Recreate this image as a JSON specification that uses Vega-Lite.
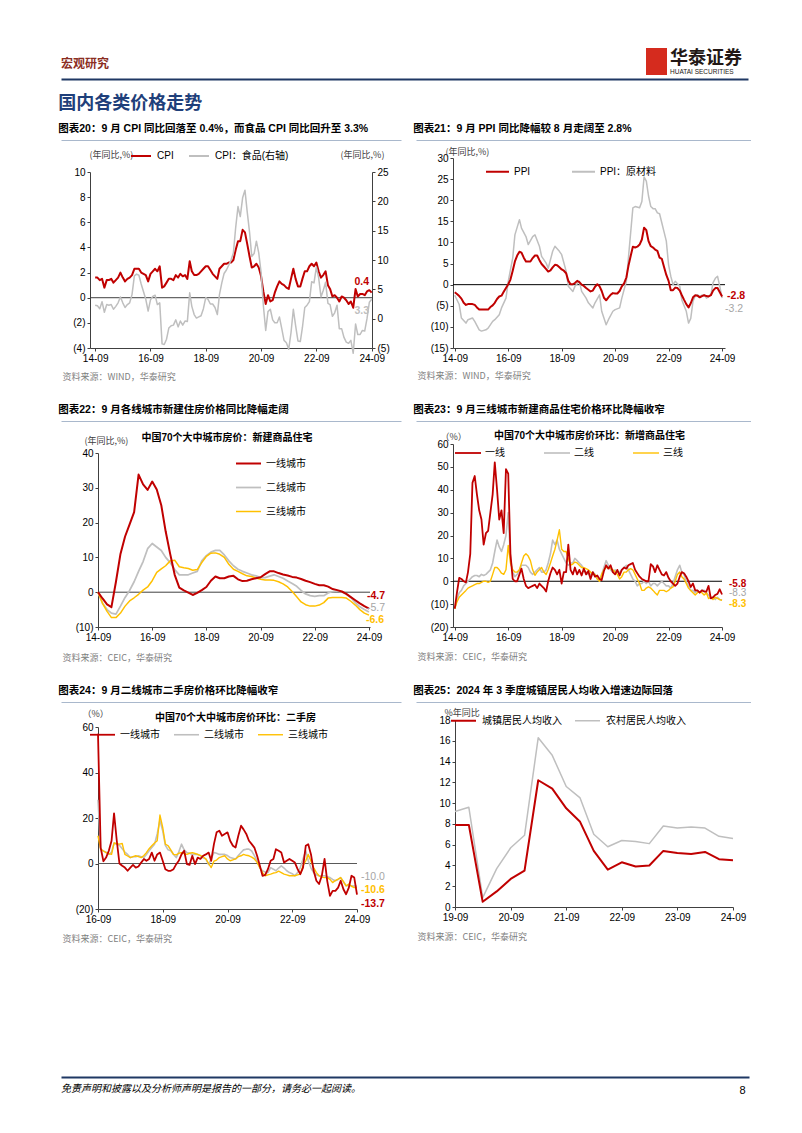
{
"$schema": "https://vega.github.io/schema/vega-lite/v6.json",
"background": "#ffffff",
"padding": {"left": 58, "top": 48, "right": 0, "bottom": 0},
"config": {
 "font": "Liberation Sans, Noto Sans CJK SC",
 "view": {"stroke": null},
 "axis": {"grid": false, "domainColor": "#404040", "domainWidth": 1, "tickColor": "#404040", "tickSize": 3, "labelFont": "Liberation Sans", "labelFontSize": 10, "labelColor": "#000000", "labelPadding": 2, "labelFlush": false, "labelOverlap": false, "labelBound": false, "titleFont": "Noto Sans CJK SC", "titleFontSize": 9, "titleFontWeight": "normal", "titleColor": "#404040"},
 "legend": {"labelFont": "Liberation Sans, Noto Sans CJK SC", "labelFontSize": 10, "labelColor": "#000000", "symbolType": "stroke", "symbolStrokeWidth": 2, "labelLimit": 300, "orient": "none"},
 "title": {"font": "Liberation Sans, Noto Sans CJK SC", "fontSize": 10.5, "fontWeight": "bold", "color": "#000000", "anchor": "start", "offset": 3},
 "line": {"strokeJoin": "round"}
},
"datasets": {
 "c20": [
{"d":"2014-09","cpi":1.6,"food":2.3},{"d":"2014-10","cpi":1.6,"food":2.2},{"d":"2014-11","cpi":1.4,"food":1.7},{"d":"2014-12","cpi":1.5,"food":2.9},
{"d":"2015-01","cpi":0.8,"food":1.1},{"d":"2015-02","cpi":1.4,"food":2.4},{"d":"2015-03","cpi":1.4,"food":2.3},{"d":"2015-04","cpi":1.5,"food":2.4},{"d":"2015-05","cpi":1.2,"food":1.6},{"d":"2015-06","cpi":1.4,"food":2.1},{"d":"2015-07","cpi":1.6,"food":2.7},{"d":"2015-08","cpi":2.0,"food":3.7},{"d":"2015-09","cpi":1.6,"food":2.7},{"d":"2015-10","cpi":1.3,"food":1.9},{"d":"2015-11","cpi":1.5,"food":2.4},{"d":"2015-12","cpi":1.6,"food":2.7},
{"d":"2016-01","cpi":1.8,"food":4.1},{"d":"2016-02","cpi":2.3,"food":7.3},{"d":"2016-03","cpi":2.3,"food":7.6},{"d":"2016-04","cpi":2.3,"food":7.4},{"d":"2016-05","cpi":2.0,"food":5.9},{"d":"2016-06","cpi":1.9,"food":4.6},{"d":"2016-07","cpi":1.8,"food":3.3},{"d":"2016-08","cpi":1.3,"food":1.3},{"d":"2016-09","cpi":1.9,"food":3.2},{"d":"2016-10","cpi":2.1,"food":3.8},{"d":"2016-11","cpi":2.3,"food":4.0},{"d":"2016-12","cpi":2.1,"food":2.4},
{"d":"2017-01","cpi":2.5,"food":2.7},{"d":"2017-02","cpi":0.8,"food":-4.3},{"d":"2017-03","cpi":0.9,"food":-4.4},{"d":"2017-04","cpi":1.2,"food":-3.5},{"d":"2017-05","cpi":1.5,"food":-1.6},{"d":"2017-06","cpi":1.5,"food":-1.2},{"d":"2017-07","cpi":1.4,"food":-1.1},{"d":"2017-08","cpi":1.8,"food":-0.2},{"d":"2017-09","cpi":1.6,"food":-1.4},{"d":"2017-10","cpi":1.9,"food":-0.4},{"d":"2017-11","cpi":1.7,"food":-1.1},{"d":"2017-12","cpi":1.8,"food":-0.4},
{"d":"2018-01","cpi":1.5,"food":-0.5},{"d":"2018-02","cpi":2.9,"food":4.4},{"d":"2018-03","cpi":2.1,"food":2.1},{"d":"2018-04","cpi":1.8,"food":0.7},{"d":"2018-05","cpi":1.8,"food":0.1},{"d":"2018-06","cpi":1.9,"food":0.3},{"d":"2018-07","cpi":2.1,"food":0.5},{"d":"2018-08","cpi":2.3,"food":1.7},{"d":"2018-09","cpi":2.5,"food":3.6},{"d":"2018-10","cpi":2.5,"food":3.3},{"d":"2018-11","cpi":2.2,"food":2.5},{"d":"2018-12","cpi":1.9,"food":2.5},
{"d":"2019-01","cpi":1.7,"food":1.9},{"d":"2019-02","cpi":1.5,"food":0.7},{"d":"2019-03","cpi":2.3,"food":4.1},{"d":"2019-04","cpi":2.5,"food":6.1},{"d":"2019-05","cpi":2.7,"food":7.7},{"d":"2019-06","cpi":2.7,"food":8.3},{"d":"2019-07","cpi":2.8,"food":9.1},{"d":"2019-08","cpi":2.8,"food":10.0},{"d":"2019-09","cpi":3.0,"food":11.2},{"d":"2019-10","cpi":3.8,"food":15.5},{"d":"2019-11","cpi":4.5,"food":19.1},{"d":"2019-12","cpi":4.5,"food":17.4},
{"d":"2020-01","cpi":5.4,"food":20.6},{"d":"2020-02","cpi":5.2,"food":21.9},{"d":"2020-03","cpi":4.3,"food":18.3},{"d":"2020-04","cpi":3.3,"food":14.8},{"d":"2020-05","cpi":2.4,"food":10.6},{"d":"2020-06","cpi":2.5,"food":11.1},{"d":"2020-07","cpi":2.7,"food":13.2},{"d":"2020-08","cpi":2.4,"food":11.2},{"d":"2020-09","cpi":1.7,"food":7.9},{"d":"2020-10","cpi":0.5,"food":2.2},{"d":"2020-11","cpi":-0.5,"food":-2.0},{"d":"2020-12","cpi":0.2,"food":1.2},
{"d":"2021-01","cpi":-0.3,"food":1.6},{"d":"2021-02","cpi":-0.2,"food":-0.2},{"d":"2021-03","cpi":0.4,"food":-0.7},{"d":"2021-04","cpi":0.9,"food":-0.7},{"d":"2021-05","cpi":1.3,"food":0.3},{"d":"2021-06","cpi":1.1,"food":-1.7},{"d":"2021-07","cpi":1.0,"food":-3.7},{"d":"2021-08","cpi":0.8,"food":-4.1},{"d":"2021-09","cpi":0.7,"food":-5.2},{"d":"2021-10","cpi":1.5,"food":-2.4},{"d":"2021-11","cpi":2.3,"food":1.6},{"d":"2021-12","cpi":1.5,"food":-1.2},
{"d":"2022-01","cpi":0.9,"food":-3.8},{"d":"2022-02","cpi":0.9,"food":-3.9},{"d":"2022-03","cpi":1.5,"food":-1.5},{"d":"2022-04","cpi":2.1,"food":1.9},{"d":"2022-05","cpi":2.1,"food":2.3},{"d":"2022-06","cpi":2.5,"food":2.9},{"d":"2022-07","cpi":2.7,"food":6.3},{"d":"2022-08","cpi":2.5,"food":6.1},{"d":"2022-09","cpi":2.8,"food":8.8},{"d":"2022-10","cpi":2.1,"food":7.0},{"d":"2022-11","cpi":1.6,"food":3.7},{"d":"2022-12","cpi":1.8,"food":4.8},
{"d":"2023-01","cpi":2.1,"food":6.2},{"d":"2023-02","cpi":1.0,"food":2.6},{"d":"2023-03","cpi":0.7,"food":2.4},{"d":"2023-04","cpi":0.1,"food":0.4},{"d":"2023-05","cpi":0.2,"food":1.0},{"d":"2023-06","cpi":0.0,"food":2.3},{"d":"2023-07","cpi":-0.3,"food":-1.7},{"d":"2023-08","cpi":0.1,"food":-1.7},{"d":"2023-09","cpi":0.0,"food":-3.2},{"d":"2023-10","cpi":-0.2,"food":-4.0},{"d":"2023-11","cpi":-0.5,"food":-4.2},{"d":"2023-12","cpi":-0.3,"food":-3.7},
{"d":"2024-01","cpi":-0.8,"food":-5.9},{"d":"2024-02","cpi":0.7,"food":-0.9},{"d":"2024-03","cpi":0.1,"food":-2.7},{"d":"2024-04","cpi":0.3,"food":-2.7},{"d":"2024-05","cpi":0.3,"food":-2.0},{"d":"2024-06","cpi":0.2,"food":-2.1},{"d":"2024-07","cpi":0.5,"food":0.0},{"d":"2024-08","cpi":0.6,"food":2.8},{"d":"2024-09","cpi":0.4,"food":3.3}
 ],
 "c21p": [
{"d":"2014-09","v":-1.8},{"d":"2014-10","v":-2.2},{"d":"2014-11","v":-2.7},{"d":"2014-12","v":-3.3},
{"d":"2015-01","v":-4.3},{"d":"2015-02","v":-4.8},{"d":"2015-03","v":-4.6},{"d":"2015-04","v":-4.6},{"d":"2015-05","v":-4.6},{"d":"2015-06","v":-4.8},{"d":"2015-07","v":-5.4},{"d":"2015-08","v":-5.9},{"d":"2015-09","v":-5.9},{"d":"2015-10","v":-5.9},{"d":"2015-11","v":-5.9},{"d":"2015-12","v":-5.9},
{"d":"2016-01","v":-5.3},{"d":"2016-02","v":-4.9},{"d":"2016-03","v":-4.3},{"d":"2016-04","v":-3.4},{"d":"2016-05","v":-2.8},{"d":"2016-06","v":-2.6},{"d":"2016-07","v":-1.7},{"d":"2016-08","v":-0.8},{"d":"2016-09","v":0.1},{"d":"2016-10","v":1.2},{"d":"2016-11","v":3.3},{"d":"2016-12","v":5.5},
{"d":"2017-01","v":6.9},{"d":"2017-02","v":7.8},{"d":"2017-03","v":7.6},{"d":"2017-04","v":6.4},{"d":"2017-05","v":5.5},{"d":"2017-06","v":5.5},{"d":"2017-07","v":5.5},{"d":"2017-08","v":6.3},{"d":"2017-09","v":6.9},{"d":"2017-10","v":6.9},{"d":"2017-11","v":5.8},{"d":"2017-12","v":4.9},
{"d":"2018-01","v":4.3},{"d":"2018-02","v":3.7},{"d":"2018-03","v":3.1},{"d":"2018-04","v":3.4},{"d":"2018-05","v":4.1},{"d":"2018-06","v":4.7},{"d":"2018-07","v":4.6},{"d":"2018-08","v":4.1},{"d":"2018-09","v":3.6},{"d":"2018-10","v":3.3},{"d":"2018-11","v":2.7},{"d":"2018-12","v":0.9},
{"d":"2019-01","v":0.1},{"d":"2019-02","v":0.1},{"d":"2019-03","v":0.4},{"d":"2019-04","v":0.9},{"d":"2019-05","v":0.6},{"d":"2019-06","v":0.0},{"d":"2019-07","v":-0.3},{"d":"2019-08","v":-0.8},{"d":"2019-09","v":-1.2},{"d":"2019-10","v":-1.6},{"d":"2019-11","v":-1.4},{"d":"2019-12","v":-0.5},
{"d":"2020-01","v":0.1},{"d":"2020-02","v":-0.4},{"d":"2020-03","v":-1.5},{"d":"2020-04","v":-3.1},{"d":"2020-05","v":-3.7},{"d":"2020-06","v":-3.0},{"d":"2020-07","v":-2.4},{"d":"2020-08","v":-2.0},{"d":"2020-09","v":-2.1},{"d":"2020-10","v":-2.1},{"d":"2020-11","v":-1.5},{"d":"2020-12","v":-0.4},
{"d":"2021-01","v":0.3},{"d":"2021-02","v":1.7},{"d":"2021-03","v":4.4},{"d":"2021-04","v":6.8},{"d":"2021-05","v":9.0},{"d":"2021-06","v":8.8},{"d":"2021-07","v":9.0},{"d":"2021-08","v":9.5},{"d":"2021-09","v":10.7},{"d":"2021-10","v":13.5},{"d":"2021-11","v":12.9},{"d":"2021-12","v":10.3},
{"d":"2022-01","v":9.1},{"d":"2022-02","v":8.8},{"d":"2022-03","v":8.3},{"d":"2022-04","v":8.0},{"d":"2022-05","v":6.4},{"d":"2022-06","v":6.1},{"d":"2022-07","v":4.2},{"d":"2022-08","v":2.3},{"d":"2022-09","v":0.9},{"d":"2022-10","v":-1.3},{"d":"2022-11","v":-1.3},{"d":"2022-12","v":-0.7},
{"d":"2023-01","v":-0.8},{"d":"2023-02","v":-1.4},{"d":"2023-03","v":-2.5},{"d":"2023-04","v":-3.6},{"d":"2023-05","v":-4.6},{"d":"2023-06","v":-5.4},{"d":"2023-07","v":-4.4},{"d":"2023-08","v":-3.0},{"d":"2023-09","v":-2.5},{"d":"2023-10","v":-2.6},{"d":"2023-11","v":-3.0},{"d":"2023-12","v":-2.7},
{"d":"2024-01","v":-2.5},{"d":"2024-02","v":-2.7},{"d":"2024-03","v":-2.8},{"d":"2024-04","v":-2.5},{"d":"2024-05","v":-1.4},{"d":"2024-06","v":-0.8},{"d":"2024-07","v":-0.8},{"d":"2024-08","v":-1.8},{"d":"2024-09","v":-2.8}
 ],
 "c21r": [
{"d":"2014-09","v":-2.5},{"d":"2014-11","v":-4.7},{"d":"2014-12","v":-7.9},{"d":"2015-02","v":-9.1},{"d":"2015-03","v":-8.3},{"d":"2015-05","v":-7.9},{"d":"2015-06","v":-8.7},{"d":"2015-08","v":-10.7},{"d":"2015-09","v":-11},{"d":"2015-11","v":-10.7},{"d":"2015-12","v":-10.3},
{"d":"2016-02","v":-8.7},{"d":"2016-03","v":-8.3},{"d":"2016-05","v":-7.1},{"d":"2016-06","v":-5.5},{"d":"2016-08","v":-3.2},{"d":"2016-09","v":0.8},{"d":"2016-11","v":6.3},{"d":"2016-12","v":11.8},
{"d":"2017-02","v":15.4},{"d":"2017-03","v":13.4},{"d":"2017-05","v":11.4},{"d":"2017-06","v":9.5},{"d":"2017-08","v":11.4},{"d":"2017-09","v":11.8},{"d":"2017-11","v":9.1},{"d":"2017-12","v":6.7},
{"d":"2018-02","v":5.1},{"d":"2018-03","v":3.9},{"d":"2018-05","v":7.9},{"d":"2018-06","v":9.1},{"d":"2018-08","v":7.9},{"d":"2018-09","v":7.1},{"d":"2018-11","v":3.2},{"d":"2018-12","v":-0.4},
{"d":"2019-02","v":-1.6},{"d":"2019-03","v":-0.4},{"d":"2019-05","v":0.8},{"d":"2019-06","v":-1.6},{"d":"2019-08","v":-3.2},{"d":"2019-09","v":-4.3},{"d":"2019-11","v":-5.5},{"d":"2019-12","v":-4.3},
{"d":"2020-02","v":-2.4},{"d":"2020-03","v":-6.3},{"d":"2020-05","v":-9.5},{"d":"2020-06","v":-8.3},{"d":"2020-08","v":-6.3},{"d":"2020-09","v":-5.9},{"d":"2020-11","v":-5.5},{"d":"2020-12","v":-3.2},
{"d":"2021-02","v":0.8},{"d":"2021-03","v":6.3},{"d":"2021-05","v":18.2},{"d":"2021-06","v":18.5},{"d":"2021-08","v":18.2},{"d":"2021-09","v":19.7},{"d":"2021-10","v":25.5},{"d":"2021-11","v":24.5},{"d":"2021-12","v":21},
{"d":"2022-01","v":18.5},{"d":"2022-02","v":18},{"d":"2022-03","v":18},{"d":"2022-04","v":17},{"d":"2022-05","v":16.8},{"d":"2022-06","v":14.6},{"d":"2022-07","v":12.5},{"d":"2022-08","v":10.3},{"d":"2022-09","v":4.7},{"d":"2022-10","v":2},{"d":"2022-11","v":0},{"d":"2022-12","v":0.8},
{"d":"2023-01","v":0.2},{"d":"2023-02","v":-0.4},{"d":"2023-03","v":-3.6},{"d":"2023-04","v":-5},{"d":"2023-05","v":-6.3},{"d":"2023-06","v":-9.1},{"d":"2023-07","v":-8},{"d":"2023-08","v":-3.9},{"d":"2023-09","v":-2.6},{"d":"2023-10","v":-2.4},{"d":"2023-11","v":-2.8},{"d":"2023-12","v":-2.5},
{"d":"2024-01","v":-2.4},{"d":"2024-02","v":-3.2},{"d":"2024-03","v":-2.8},{"d":"2024-04","v":-2.4},{"d":"2024-05","v":0.5},{"d":"2024-06","v":1.5},{"d":"2024-07","v":2},{"d":"2024-08","v":-0.4},{"d":"2024-09","v":-3.2}
 ],
 "c22": [
{"d":"2014-09","t1":0,"t2":0,"t3":0},{"d":"2014-11","t1":-1.8,"t2":-3.2,"t3":-3.2},{"d":"2015-01","t1":-3.5,"t2":-5,"t3":-5.5},{"d":"2015-03","t1":-4.3,"t2":-6,"t3":-7.3},{"d":"2015-05","t1":3,"t2":-6.3,"t3":-7.3},{"d":"2015-07","t1":11,"t2":-4,"t3":-6},{"d":"2015-09","t1":16,"t2":-1.5,"t3":-4},{"d":"2015-11","t1":19.5,"t2":0.5,"t3":-2.5},
{"d":"2016-01","t1":23,"t2":3,"t3":-1.6},{"d":"2016-03","t1":33.8,"t2":6,"t3":-0.6},{"d":"2016-05","t1":31,"t2":8.8,"t3":0.6},{"d":"2016-07","t1":29.4,"t2":12.5,"t3":1.5},{"d":"2016-09","t1":31.8,"t2":14,"t3":3.3},{"d":"2016-11","t1":29.5,"t2":13,"t3":5.7},
{"d":"2017-01","t1":25,"t2":12,"t3":6.7},{"d":"2017-03","t1":17.5,"t2":10,"t3":7.6},{"d":"2017-05","t1":11,"t2":8.5,"t3":9},{"d":"2017-07","t1":5,"t2":6.5,"t3":9.2},{"d":"2017-09","t1":1.3,"t2":5,"t3":7.3},{"d":"2017-11","t1":0.5,"t2":5,"t3":7},
{"d":"2018-01","t1":-0.1,"t2":5,"t3":6.8},{"d":"2018-03","t1":-0.8,"t2":5.5,"t3":6.3},{"d":"2018-05","t1":-0.2,"t2":6,"t3":6.5},{"d":"2018-07","t1":0.6,"t2":9,"t3":8.5},{"d":"2018-09","t1":1.5,"t2":10.5,"t3":10.3},{"d":"2018-11","t1":3.3,"t2":11.5,"t3":11.2},
{"d":"2019-01","t1":4.5,"t2":12,"t3":11.3},{"d":"2019-03","t1":4,"t2":12,"t3":10.9},{"d":"2019-05","t1":4,"t2":10.7,"t3":10},{"d":"2019-07","t1":4.5,"t2":9,"t3":8},{"d":"2019-09","t1":4.7,"t2":7.6,"t3":6.6},{"d":"2019-11","t1":3.7,"t2":6.6,"t3":6},
{"d":"2020-01","t1":3.2,"t2":6,"t3":5.3},{"d":"2020-03","t1":3.3,"t2":5.5,"t3":4.7},{"d":"2020-05","t1":3.7,"t2":5,"t3":4.5},{"d":"2020-07","t1":4,"t2":4.7,"t3":4.1},{"d":"2020-09","t1":4.3,"t2":4.2,"t3":3.7},{"d":"2020-11","t1":5.2,"t2":4.2,"t3":3.5},
{"d":"2021-01","t1":6,"t2":4.6,"t3":3.5},{"d":"2021-03","t1":6,"t2":5,"t3":3.4},{"d":"2021-05","t1":5.5,"t2":4.5,"t3":3},{"d":"2021-07","t1":5.1,"t2":4,"t3":2.4},{"d":"2021-09","t1":4.8,"t2":3.2,"t3":1.5},{"d":"2021-11","t1":4.4,"t2":2.5,"t3":0.2},
{"d":"2022-01","t1":4.2,"t2":1.7,"t3":-1.3},{"d":"2022-03","t1":3.8,"t2":0.5,"t3":-2.8},{"d":"2022-05","t1":3.3,"t2":-0.5,"t3":-3.6},{"d":"2022-07","t1":2.9,"t2":-1,"t3":-4},{"d":"2022-09","t1":2.4,"t2":-1.2,"t3":-4},{"d":"2022-11","t1":2,"t2":-1,"t3":-3.7},
{"d":"2023-01","t1":2,"t2":-1,"t3":-3},{"d":"2023-03","t1":1.6,"t2":-0.2,"t3":-1.7},{"d":"2023-05","t1":0.9,"t2":0.2,"t3":-1.5},{"d":"2023-07","t1":0.6,"t2":0.3,"t3":-1.5},{"d":"2023-09","t1":0.2,"t2":0.1,"t3":-1.5},{"d":"2023-11","t1":-0.5,"t2":-0.6,"t3":-1.7},
{"d":"2024-01","t1":-1.4,"t2":-1.5,"t3":-2.6},{"d":"2024-03","t1":-2.3,"t2":-3,"t3":-3.7},{"d":"2024-05","t1":-3.2,"t2":-4.2,"t3":-5},{"d":"2024-07","t1":-4,"t2":-5,"t3":-6},{"d":"2024-09","t1":-4.7,"t2":-5.7,"t3":-6.6}
 ],
 "c23": [
{"d":"2014-09","t1":-12,"t2":-12,"t3":-12},{"d":"2014-10","t1":-5,"t2":-8,"t3":-9},{"d":"2014-11","t1":1.5,"t2":-5,"t3":-7},{"d":"2014-12","t1":1,"t2":-4,"t3":-6},
{"d":"2015-01","t1":0,"t2":-2,"t3":-5},{"d":"2015-02","t1":-0.5,"t2":-1,"t3":-4},{"d":"2015-03","t1":4,"t2":0,"t3":-3},{"d":"2015-04","t1":12,"t2":1,"t3":-2.5},{"d":"2015-05","t1":43,"t2":2,"t3":-2},{"d":"2015-06","t1":46,"t2":2.5,"t3":-1.5},{"d":"2015-07","t1":38,"t2":2.5,"t3":-1},{"d":"2015-08","t1":31,"t2":2,"t3":-1},{"d":"2015-09","t1":27,"t2":3,"t3":-0.5},{"d":"2015-10","t1":16,"t2":2.5,"t3":0},{"d":"2015-11","t1":21,"t2":3,"t3":0},{"d":"2015-12","t1":22,"t2":4,"t3":-0.5},
{"d":"2016-01","t1":30,"t2":5,"t3":0},{"d":"2016-02","t1":38,"t2":8,"t3":3},{"d":"2016-03","t1":52,"t2":13,"t3":6},{"d":"2016-04","t1":40,"t2":18,"t3":6},{"d":"2016-05","t1":27,"t2":15,"t3":5},{"d":"2016-06","t1":31,"t2":13,"t3":3.5},{"d":"2016-07","t1":21,"t2":16,"t3":3},{"d":"2016-08","t1":49,"t2":20,"t3":5},{"d":"2016-09","t1":47,"t2":30,"t3":15.7},{"d":"2016-10","t1":12,"t2":10,"t3":8},{"d":"2016-11","t1":1,"t2":4,"t3":5},{"d":"2016-12","t1":0,"t2":2,"t3":4},
{"d":"2017-01","t1":0,"t2":3,"t3":4},{"d":"2017-02","t1":3,"t2":5,"t3":5},{"d":"2017-03","t1":5.5,"t2":7,"t3":8},{"d":"2017-04","t1":1,"t2":7,"t3":11},{"d":"2017-05","t1":-2,"t2":7,"t3":12},{"d":"2017-06","t1":-3,"t2":6,"t3":11},{"d":"2017-07","t1":-2.5,"t2":4,"t3":9},{"d":"2017-08","t1":-2,"t2":3,"t3":5},{"d":"2017-09","t1":-1.5,"t2":4,"t3":2.6},{"d":"2017-10","t1":-3,"t2":5,"t3":4},{"d":"2017-11","t1":-1,"t2":6,"t3":5},{"d":"2017-12","t1":-2,"t2":4,"t3":6},
{"d":"2018-01","t1":-3,"t2":4,"t3":4},{"d":"2018-02","t1":-4.5,"t2":5,"t3":3},{"d":"2018-03","t1":0,"t2":8,"t3":5},{"d":"2018-04","t1":3.5,"t2":12,"t3":8},{"d":"2018-05","t1":6,"t2":18,"t3":11},{"d":"2018-06","t1":5,"t2":16,"t3":14},{"d":"2018-07","t1":3,"t2":18,"t3":18},{"d":"2018-08","t1":5,"t2":14,"t3":22.5},{"d":"2018-09","t1":-1,"t2":12,"t3":14},{"d":"2018-10","t1":4,"t2":10,"t3":13},{"d":"2018-11","t1":4,"t2":8,"t3":13},{"d":"2018-12","t1":16,"t2":7,"t3":10},
{"d":"2019-01","t1":5,"t2":8,"t3":7},{"d":"2019-02","t1":3,"t2":8,"t3":7.5},{"d":"2019-03","t1":6,"t2":10,"t3":8.4},{"d":"2019-04","t1":3,"t2":9,"t3":8},{"d":"2019-05","t1":5,"t2":8,"t3":7},{"d":"2019-06","t1":2.5,"t2":7,"t3":6},{"d":"2019-07","t1":5.5,"t2":5,"t3":6},{"d":"2019-08","t1":3,"t2":4,"t3":5.5},{"d":"2019-09","t1":4.5,"t2":3,"t3":5},{"d":"2019-10","t1":1,"t2":3,"t3":4},{"d":"2019-11","t1":4,"t2":4,"t3":3},{"d":"2019-12","t1":2,"t2":3,"t3":3},
{"d":"2020-01","t1":2.5,"t2":1,"t3":1},{"d":"2020-02","t1":1,"t2":0,"t3":0},{"d":"2020-03","t1":0.5,"t2":3,"t3":3},{"d":"2020-04","t1":4.5,"t2":6,"t3":5},{"d":"2020-05","t1":7,"t2":9,"t3":6},{"d":"2020-06","t1":5.5,"t2":7,"t3":6},{"d":"2020-07","t1":7,"t2":5,"t3":5.5},{"d":"2020-08","t1":4,"t2":4,"t3":5},{"d":"2020-09","t1":3,"t2":5,"t3":4},{"d":"2020-10","t1":5,"t2":4,"t3":3},{"d":"2020-11","t1":2.5,"t2":4,"t3":1},{"d":"2020-12","t1":5,"t2":5,"t3":2},
{"d":"2021-01","t1":6,"t2":6,"t3":4},{"d":"2021-02","t1":5.5,"t2":7,"t3":4},{"d":"2021-03","t1":7,"t2":5,"t3":5},{"d":"2021-04","t1":7.5,"t2":3,"t3":5.5},{"d":"2021-05","t1":8,"t2":1,"t3":5},{"d":"2021-06","t1":5,"t2":0,"t3":3},{"d":"2021-07","t1":3.5,"t2":-2,"t3":1},{"d":"2021-08","t1":2,"t2":-1,"t3":-1},{"d":"2021-09","t1":1,"t2":-1,"t3":-4},{"d":"2021-10","t1":0.5,"t2":0,"t3":-4},{"d":"2021-11","t1":0,"t2":-1,"t3":-3},{"d":"2021-12","t1":0,"t2":0,"t3":-2.5},
{"d":"2022-01","t1":7.5,"t2":-2,"t3":-3},{"d":"2022-02","t1":6.5,"t2":-1,"t3":-4},{"d":"2022-03","t1":4,"t2":-1,"t3":-5},{"d":"2022-04","t1":7,"t2":-2,"t3":-6},{"d":"2022-05","t1":5,"t2":-1,"t3":-4},{"d":"2022-06","t1":3,"t2":0,"t3":-4},{"d":"2022-07","t1":2.5,"t2":-1,"t3":-4},{"d":"2022-08","t1":4,"t2":-2,"t3":-4.6},{"d":"2022-09","t1":1.5,"t2":-2,"t3":-4},{"d":"2022-10","t1":0,"t2":-3,"t3":-3},{"d":"2022-11","t1":-1,"t2":-1,"t3":-2.5},{"d":"2022-12","t1":-2,"t2":2,"t3":0},
{"d":"2023-01","t1":-1,"t2":5,"t3":3},{"d":"2023-02","t1":2,"t2":7,"t3":4},{"d":"2023-03","t1":4,"t2":4,"t3":2},{"d":"2023-04","t1":3.5,"t2":3,"t3":1},{"d":"2023-05","t1":2,"t2":0,"t3":-1},{"d":"2023-06","t1":0,"t2":-2,"t3":-3},{"d":"2023-07","t1":-2.5,"t2":-4,"t3":-4},{"d":"2023-08","t1":-1,"t2":-4,"t3":-5},{"d":"2023-09","t1":-4,"t2":-5,"t3":-6},{"d":"2023-10","t1":-4,"t2":-4,"t3":-5},{"d":"2023-11","t1":-5,"t2":-5,"t3":-4.6},{"d":"2023-12","t1":-4,"t2":-4,"t3":-5},
{"d":"2024-01","t1":-4.5,"t2":-4,"t3":-6},{"d":"2024-02","t1":-4.5,"t2":-5,"t3":-5},{"d":"2024-03","t1":-2,"t2":-6,"t3":-7.6},{"d":"2024-04","t1":-7.5,"t2":-7,"t3":-7},{"d":"2024-05","t1":-7,"t2":-7,"t3":-8},{"d":"2024-06","t1":-6,"t2":-8,"t3":-7},{"d":"2024-07","t1":-5.5,"t2":-7,"t3":-7.5},{"d":"2024-08","t1":-3.5,"t2":-8,"t3":-8},{"d":"2024-09","t1":-5.8,"t2":-8.3,"t3":-8.3}
 ],
 "c24": [
{"d":"2016-09","t1":57,"t2":28,"t3":12.2},{"d":"2016-10","t1":7,"t2":6.3,"t3":6.3},{"d":"2016-11","t1":1,"t2":5.5,"t3":5.5},{"d":"2016-12","t1":2.6,"t2":5,"t3":4.8},
{"d":"2017-01","t1":5.6,"t2":4,"t3":4.3},{"d":"2017-02","t1":10,"t2":5,"t3":4},{"d":"2017-03","t1":22,"t2":9,"t3":9},{"d":"2017-04","t1":10,"t2":8.5,"t3":8.7},{"d":"2017-05","t1":0,"t2":8,"t3":8.5},{"d":"2017-06","t1":-1,"t2":6.5,"t3":8.8},{"d":"2017-07","t1":-1.8,"t2":5,"t3":4},{"d":"2017-08","t1":-3.2,"t2":4,"t3":3.3},{"d":"2017-09","t1":-1.8,"t2":2.6,"t3":2.6},{"d":"2017-10","t1":-0.6,"t2":3,"t3":3},{"d":"2017-11","t1":-1.8,"t2":3,"t3":3.4},{"d":"2017-12","t1":-1.3,"t2":3.4,"t3":3},
{"d":"2018-01","t1":0.4,"t2":3,"t3":2.6},{"d":"2018-02","t1":2,"t2":2.6,"t3":3.5},{"d":"2018-03","t1":1.2,"t2":4,"t3":4.8},{"d":"2018-04","t1":2,"t2":5.6,"t3":6.5},{"d":"2018-05","t1":4.8,"t2":7,"t3":7.8},{"d":"2018-06","t1":1.2,"t2":8.5,"t3":9},{"d":"2018-07","t1":4,"t2":13,"t3":10},{"d":"2018-08","t1":4.8,"t2":19,"t3":21.3},{"d":"2018-09","t1":1.2,"t2":14.4,"t3":15.9},{"d":"2018-10","t1":-2.5,"t2":8,"t3":8.5},{"d":"2018-11","t1":-3.2,"t2":6,"t3":7.8},{"d":"2018-12","t1":-3.2,"t2":5.6,"t3":6},
{"d":"2019-01","t1":-2.5,"t2":4,"t3":4},{"d":"2019-02","t1":-0.3,"t2":2.6,"t3":3.8},{"d":"2019-03","t1":1.2,"t2":5,"t3":4.5},{"d":"2019-04","t1":4,"t2":8.5,"t3":4.8},{"d":"2019-05","t1":5.6,"t2":6,"t3":4.3},{"d":"2019-06","t1":-0.3,"t2":4.8,"t3":4},{"d":"2019-07","t1":-0.6,"t2":4.5,"t3":4.5},{"d":"2019-08","t1":3.4,"t2":4,"t3":4.8},{"d":"2019-09","t1":-0.3,"t2":4,"t3":4.4},{"d":"2019-10","t1":2.6,"t2":4,"t3":4},{"d":"2019-11","t1":2,"t2":3.5,"t3":3.5},{"d":"2019-12","t1":3.4,"t2":2.5,"t3":3},
{"d":"2020-01","t1":4,"t2":2,"t3":2},{"d":"2020-02","t1":4.8,"t2":-0.5,"t3":0},{"d":"2020-03","t1":1.2,"t2":2,"t3":-1.8},{"d":"2020-04","t1":8.5,"t2":4.8,"t3":1},{"d":"2020-05","t1":13.7,"t2":4.5,"t3":1.5},{"d":"2020-06","t1":14.4,"t2":4,"t3":2.6},{"d":"2020-07","t1":12.2,"t2":4,"t3":3},{"d":"2020-08","t1":13,"t2":4,"t3":3.4},{"d":"2020-09","t1":13.7,"t2":3.5,"t3":2},{"d":"2020-10","t1":10,"t2":2.6,"t3":1.2},{"d":"2020-11","t1":7.8,"t2":2.3,"t3":1.6},{"d":"2020-12","t1":7,"t2":2,"t3":2},
{"d":"2021-01","t1":12.2,"t2":3.5,"t3":3},{"d":"2021-02","t1":16.6,"t2":4.8,"t3":3.4},{"d":"2021-03","t1":15,"t2":6,"t3":4},{"d":"2021-04","t1":13,"t2":6.3,"t3":3.6},{"d":"2021-05","t1":10,"t2":6.3,"t3":3.4},{"d":"2021-06","t1":8.5,"t2":5.5,"t3":2.8},{"d":"2021-07","t1":7,"t2":3.5,"t3":2},{"d":"2021-08","t1":3.4,"t2":1,"t3":0.5},{"d":"2021-09","t1":-1,"t2":-2,"t3":-1.8},{"d":"2021-10","t1":-5.4,"t2":-3.2,"t3":-4},{"d":"2021-11","t1":-5,"t2":-3.8,"t3":-5.4},{"d":"2021-12","t1":-2.5,"t2":-4,"t3":-5},
{"d":"2022-01","t1":1.2,"t2":-1.8,"t3":-4.7},{"d":"2022-02","t1":2,"t2":-2.5,"t3":-4.2},{"d":"2022-03","t1":6.3,"t2":-3.2,"t3":-4},{"d":"2022-04","t1":5.6,"t2":-2,"t3":-3.4},{"d":"2022-05","t1":4.8,"t2":-1,"t3":-4},{"d":"2022-06","t1":0.4,"t2":-2,"t3":-4.7},{"d":"2022-07","t1":1.2,"t2":-3.2,"t3":-5},{"d":"2022-08","t1":2,"t2":-4,"t3":-5.4},{"d":"2022-09","t1":1.2,"t2":-4.5,"t3":-5.4},{"d":"2022-10","t1":0.4,"t2":-5.4,"t3":-5.4},{"d":"2022-11","t1":-2.5,"t2":-4,"t3":-5},{"d":"2022-12","t1":-4.7,"t2":-1.8,"t3":-4.7},
{"d":"2023-01","t1":-1.8,"t2":2,"t3":-1},{"d":"2023-02","t1":7.8,"t2":5.6,"t3":1.2},{"d":"2023-03","t1":8.5,"t2":1.2,"t3":4},{"d":"2023-04","t1":4,"t2":-2,"t3":1},{"d":"2023-05","t1":-3.2,"t2":-4,"t3":-1.8},{"d":"2023-06","t1":-7.6,"t2":-5,"t3":-4},{"d":"2023-07","t1":-9,"t2":-5.4,"t3":-5.4},{"d":"2023-08","t1":-5.4,"t2":-5.4,"t3":-6},{"d":"2023-09","t1":2,"t2":-5.4,"t3":-6.2},{"d":"2023-10","t1":-7.6,"t2":-5.8,"t3":-6.2},{"d":"2023-11","t1":-14.2,"t2":-6.2,"t3":-7},{"d":"2023-12","t1":-12,"t2":-7,"t3":-8.4},
{"d":"2024-01","t1":-12,"t2":-7.6,"t3":-7.5},{"d":"2024-02","t1":-10.6,"t2":-7,"t3":-6.9},{"d":"2024-03","t1":-7.6,"t2":-6.2,"t3":-6.2},{"d":"2024-04","t1":-11.3,"t2":-8,"t3":-8},{"d":"2024-05","t1":-13.5,"t2":-9.8,"t3":-9.8},{"d":"2024-06","t1":-10.6,"t2":-9.8,"t3":-9},{"d":"2024-07","t1":-5.4,"t2":-9.8,"t3":-10},{"d":"2024-08","t1":-6.2,"t2":-9.9,"t3":-10.6},{"d":"2024-09","t1":-13.7,"t2":-10,"t3":-10.6}
 ],
 "c25": [
{"d":"2019-09","u":7.9,"r":9.2},{"d":"2019-12","u":7.9,"r":9.6},{"d":"2020-03","u":0.5,"r":0.9},{"d":"2020-06","u":1.5,"r":3.7},{"d":"2020-09","u":2.7,"r":5.7},{"d":"2020-12","u":3.5,"r":6.9},
{"d":"2021-03","u":12.2,"r":16.3},{"d":"2021-06","u":11.4,"r":14.6},{"d":"2021-09","u":9.5,"r":11.6},{"d":"2021-12","u":8.2,"r":10.5},{"d":"2022-03","u":5.4,"r":7.0},{"d":"2022-06","u":3.6,"r":5.8},
{"d":"2022-09","u":4.3,"r":6.4},{"d":"2022-12","u":3.9,"r":6.3},{"d":"2023-03","u":4.0,"r":6.1},{"d":"2023-06","u":5.4,"r":7.8},{"d":"2023-09","u":5.2,"r":7.6},{"d":"2023-12","u":5.1,"r":7.7},
{"d":"2024-03","u":5.3,"r":7.6},{"d":"2024-06","u":4.6,"r":6.8},{"d":"2024-09","u":4.5,"r":6.6}
 ]
},
"vconcat": [
 {"vconcat": [
   {"hconcat": [
     {"width": 582, "height": 0.01, "data": {"values": []}, "mark": "text", "encoding": {}, "title": {"text": "宏观研究", "orient": "bottom", "anchor": "start", "offset": 11, "fontSize": 12, "color": "#8B2E23", "fontWeight": "bold", "font": "Noto Sans CJK SC"}},
     {"width": 21, "height": 27, "data": {"values": []}, "mark": "text", "encoding": {}, "view": {"fill": "#D52B1E", "stroke": null}},
     {"width": 79, "height": 0.01, "data": {"values": []}, "mark": "text", "encoding": {}, "title": {"text": "华泰证券", "subtitle": "HUATAI SECURITIES", "orient": "bottom", "anchor": "start", "offset": 2, "fontSize": 18, "fontWeight": "bold", "color": "#231815", "font": "Noto Sans CJK SC", "subtitleFont": "Liberation Sans", "subtitleFontSize": 6.5, "subtitleColor": "#231815", "subtitlePadding": 1}}
   ], "spacing": 3},
   {"width": 687, "height": 1, "data": {"values": [{}]}, "mark": {"type": "point", "opacity": 0}, "encoding": {"x": {"datum": 0, "type": "quantitative", "scale": {"domain": [0, 1]}, "axis": {"orient": "top", "domainColor": "#1F3864", "domainWidth": 2, "ticks": false, "labels": false, "title": null}}}}
 ], "spacing": 0},
 {"title": {"text": "国内各类价格走势", "fontSize": 18, "color": "#1F3F7A", "offset": 11, "font": "Noto Sans CJK SC", "fontWeight": "bold"},
  "resolve": {"scale": {"color": "independent", "strokeWidth": "independent"}},
  "vconcat": [
   {"hconcat": [
     {"vconcat": [
       {"width": 340, "height": 1, "data": {"values": [{}]}, "mark": {"type": "point", "opacity": 0}, "encoding": {"x": {"datum": 0, "type": "quantitative", "scale": {"domain": [0, 1]}, "axis": {"orient": "top", "domainColor": "#A9B8CC", "domainWidth": 1, "ticks": false, "labels": false, "title": null}}}, "title": {"text": "图表20：9 月 CPI 同比回落至 0.4%，而食品 CPI 同比回升至 3.3%"}},
       {"hconcat": [
        {"width": 0.01, "height": 1, "data": {"values": []}, "mark": "text", "encoding": {}},
        {"width": 282, "height": 176,
        "layer": [
          {"layer": [
            {"data": {"values": [{}]}, "mark": {"type": "rule", "color": "#404040", "strokeWidth": 1}, "encoding": {"y": {"datum": 0}}},
            {"data": {"name": "c20"}, "mark": {"type": "line", "strokeWidth": 2},
             "encoding": {
              "x": {"field": "d", "type": "temporal", "scale": {"type": "utc", "nice": false, "domain": [{"year": 2014, "month": 6, "date": 25, "utc": true}, {"year": 2024, "month": 9, "date": 5, "utc": true}]},
                    "axis": {"values": [{"year": 2014, "month": 9, "date": 1, "utc": true}, {"year": 2016, "month": 9, "date": 1, "utc": true}, {"year": 2018, "month": 9, "date": 1, "utc": true}, {"year": 2020, "month": 9, "date": 1, "utc": true}, {"year": 2022, "month": 9, "date": 1, "utc": true}, {"year": 2024, "month": 9, "date": 1, "utc": true}], "format": "%y-%m", "tickCount": 30, "title": "资料来源：WIND，华泰研究", "titleX": -28, "titleY": 28, "titleAlign": "left", "titleBaseline": "middle", "titleAngle": 0, "titleColor": "#7F7F7F"}},
              "y": {"field": "cpi", "type": "quantitative", "scale": {"domain": [-4, 10], "nice": false, "zero": false},
                    "axis": {"values": [-4, -2, 0, 2, 4, 6, 8, 10], "tickCount": 30, "labelExpr": "datum.value < 0 ? '(' + abs(datum.value) + ')' : '' + datum.value", "title": "(年同比,%)", "titleX": -1, "titleY": -18, "titleAlign": "left", "titleBaseline": "middle", "titleAngle": 0}},
              "color": {"datum": "CPI", "scale": {"domain": ["CPI", "CPI：食品(右轴)"], "range": ["#C00000", "#BFBFBF"]},
                        "legend": {"title": null, "orient": "none", "legendX": 69, "legendY": 5, "direction": "horizontal", "symbolSize": 400, "columnPadding": 14, "labelOffset": 5}}
             }},
            {"data": {"values": [{"d": "2024-09", "v": 0.4, "t": "0.4"}]}, "mark": {"type": "text", "color": "#C00000", "fontWeight": "bold", "fontSize": 10.5, "dx": -10, "dy": -11},
             "encoding": {"x": {"field": "d", "type": "temporal", "scale": {"type": "utc"}}, "y": {"field": "v", "type": "quantitative"}, "text": {"field": "t", "type": "nominal"}}}
          ]},
          {"layer": [
            {"data": {"name": "c20"}, "mark": {"type": "line", "strokeWidth": 1.5},
             "encoding": {
              "x": {"field": "d", "type": "temporal", "scale": {"type": "utc"}},
              "y": {"field": "food", "type": "quantitative", "scale": {"domain": [-5, 25], "nice": false, "zero": false},
                    "axis": {"orient": "right", "values": [-5, 0, 5, 10, 15, 20, 25], "tickCount": 30, "labelExpr": "datum.value < 0 ? '(' + abs(datum.value) + ')' : '' + datum.value", "title": "(年同比,%)", "titleX": -10, "titleY": -18, "titleAlign": "center", "titleBaseline": "middle", "titleAngle": 0}},
              "color": {"datum": "CPI：食品(右轴)"}
             }},
            {"data": {"values": [{"d": "2024-09", "v": 3.3, "t": "3.3"}]}, "mark": {"type": "text", "color": "#BFBFBF", "fontWeight": "bold", "fontSize": 10.5, "dx": -10, "dy": 12},
             "encoding": {"x": {"field": "d", "type": "temporal", "scale": {"type": "utc"}}, "y": {"field": "v", "type": "quantitative"}, "text": {"field": "t", "type": "nominal"}}}
          ]}
        ],
        "resolve": {"scale": {"y": "independent"}}
        }
       ], "spacing": 0}
     ], "spacing": 6},
     {"vconcat": [
       {"width": 335, "height": 1, "data": {"values": [{}]}, "mark": {"type": "point", "opacity": 0}, "encoding": {"x": {"datum": 0, "type": "quantitative", "scale": {"domain": [0, 1]}, "axis": {"orient": "top", "domainColor": "#A9B8CC", "domainWidth": 1, "ticks": false, "labels": false, "title": null}}}, "title": {"text": "图表21：9 月 PPI 同比降幅较 8 月走阔至 2.8%"}},
       {"hconcat": [
        {"width": 0.01, "height": 1, "data": {"values": []}, "mark": "text", "encoding": {}},
        {"width": 272, "height": 190,
        "layer": [
          {"data": {"values": [{}]}, "mark": {"type": "rule", "color": "#000000", "strokeWidth": 1}, "encoding": {"y": {"datum": 0}}},
          {"data": {"name": "c21r"}, "mark": {"type": "line", "strokeWidth": 1.5},
           "encoding": {
            "x": {"field": "d", "type": "temporal", "scale": {"type": "utc", "nice": false, "domain": [{"year": 2014, "month": 8, "date": 8, "utc": true}, {"year": 2024, "month": 10, "date": 11, "utc": true}]},
                  "axis": {"values": [{"year": 2014, "month": 9, "date": 1, "utc": true}, {"year": 2016, "month": 9, "date": 1, "utc": true}, {"year": 2018, "month": 9, "date": 1, "utc": true}, {"year": 2020, "month": 9, "date": 1, "utc": true}, {"year": 2022, "month": 9, "date": 1, "utc": true}, {"year": 2024, "month": 9, "date": 1, "utc": true}], "format": "%y-%m", "tickCount": 30, "title": "资料来源：WIND，华泰研究", "titleX": -36, "titleY": 27, "titleAlign": "left", "titleBaseline": "middle", "titleAngle": 0, "titleColor": "#7F7F7F"}},
            "y": {"field": "v", "type": "quantitative", "scale": {"domain": [-15, 30], "nice": false, "zero": false},
                  "axis": {"values": [-15, -10, -5, 0, 5, 10, 15, 20, 25, 30], "tickCount": 30, "labelExpr": "datum.value < 0 ? '(' + abs(datum.value) + ')' : '' + datum.value", "title": "(年同比,%)", "titleX": -8, "titleY": -7, "titleAlign": "left", "titleBaseline": "middle", "titleAngle": 0}},
            "color": {"datum": "PPI：原材料"}
           }},
          {"data": {"name": "c21p"}, "mark": {"type": "line", "strokeWidth": 2},
           "encoding": {
            "x": {"field": "d", "type": "temporal", "scale": {"type": "utc"}},
            "y": {"field": "v", "type": "quantitative"},
            "color": {"datum": "PPI", "scale": {"domain": ["PPI", "PPI：原材料"], "range": ["#C00000", "#BFBFBF"]},
                      "legend": {"title": null, "orient": "none", "legendX": 69, "legendY": 19, "direction": "horizontal", "symbolSize": 529, "columnPadding": 40, "labelOffset": 4}}
           }},
          {"data": {"values": [{"d": "2024-09", "v": -2.8, "t": "-2.8"}]}, "mark": {"type": "text", "color": "#C00000", "fontWeight": "bold", "fontSize": 10.5, "align": "left", "dx": 5, "dy": 0},
           "encoding": {"x": {"field": "d", "type": "temporal", "scale": {"type": "utc"}}, "y": {"field": "v", "type": "quantitative"}, "text": {"field": "t", "type": "nominal"}}},
          {"data": {"values": [{"d": "2024-09", "v": -3.2, "t": "-3.2"}]}, "mark": {"type": "text", "color": "#A6A6A6", "fontSize": 10.5, "align": "left", "dx": 3, "dy": 11},
           "encoding": {"x": {"field": "d", "type": "temporal", "scale": {"type": "utc"}}, "y": {"field": "v", "type": "quantitative"}, "text": {"field": "t", "type": "nominal"}}}
        ]
        }
       ], "spacing": 0}
     ], "spacing": 3}
   ], "spacing": 12, "resolve": {"scale": {"color": "independent", "strokeWidth": "independent"}}},
   {"hconcat": [
     {"vconcat": [
       {"width": 340, "height": 1, "data": {"values": [{}]}, "mark": {"type": "point", "opacity": 0}, "encoding": {"x": {"datum": 0, "type": "quantitative", "scale": {"domain": [0, 1]}, "axis": {"orient": "top", "domainColor": "#A9B8CC", "domainWidth": 1, "ticks": false, "labels": false, "title": null}}}, "title": {"text": "图表22：9 月各线城市新建住房价格同比降幅走阔"}},
       {"hconcat": [
        {"width": 0.01, "height": 1, "data": {"values": []}, "mark": "text", "encoding": {}},
        {"width": 272, "height": 174,
        "title": {"text": "中国70个大中城市房价：新建商品住宅", "anchor": "middle", "frame": "group", "fontSize": 10, "offset": -6.5, "dx": -7},
        "layer": [
          {"data": {"values": [{}]}, "mark": {"type": "rule", "color": "#404040", "strokeWidth": 1}, "encoding": {"y": {"datum": 0}}},
          {"data": {"name": "c22"}, "transform": [{"fold": ["t2", "t3", "t1"], "as": ["s", "v"]}], "mark": {"type": "line"},
           "encoding": {
            "x": {"field": "d", "type": "temporal", "scale": {"type": "utc", "nice": false, "domain": [{"year": 2014, "month": 9, "date": 1, "utc": true}, {"year": 2024, "month": 9, "date": 15, "utc": true}]},
                  "axis": {"values": [{"year": 2014, "month": 9, "date": 1, "utc": true}, {"year": 2016, "month": 9, "date": 1, "utc": true}, {"year": 2018, "month": 9, "date": 1, "utc": true}, {"year": 2020, "month": 9, "date": 1, "utc": true}, {"year": 2022, "month": 9, "date": 1, "utc": true}, {"year": 2024, "month": 9, "date": 1, "utc": true}], "format": "%y-%m", "tickCount": 30, "title": "资料来源：CEIC，华泰研究", "titleX": -36, "titleY": 30, "titleAlign": "left", "titleBaseline": "middle", "titleAngle": 0, "titleColor": "#7F7F7F"}},
            "y": {"field": "v", "type": "quantitative", "scale": {"domain": [-10, 40], "nice": false, "zero": false},
                  "axis": {"values": [-10, 0, 10, 20, 30, 40], "tickCount": 30, "labelExpr": "datum.value < 0 ? '(' + abs(datum.value) + ')' : '' + datum.value", "title": "(年同比,%)", "titleX": -14, "titleY": -13, "titleAlign": "left", "titleBaseline": "middle", "titleAngle": 0}},
            "color": {"field": "s", "type": "nominal", "scale": {"domain": ["t1", "t2", "t3"], "range": ["#C00000", "#BFBFBF", "#FFC000"]},
                      "legend": {"title": null, "orient": "none", "legendX": 174, "legendY": 29, "direction": "vertical", "symbolSize": 625, "rowPadding": 5, "labelOffset": 4, "labelFont": "Noto Sans CJK SC", "labelExpr": "datum.value == 't1' ? '一线城市' : datum.value == 't2' ? '二线城市' : '三线城市'"}},
            "strokeWidth": {"field": "s", "type": "nominal", "scale": {"domain": ["t1", "t2", "t3"], "range": [2, 1.5, 2]}, "legend": null}
           }},
          {"data": {"values": [{"d": "2024-09", "v": -4.7, "t": "-4.7"}]}, "mark": {"type": "text", "color": "#C00000", "fontWeight": "bold", "fontSize": 10.5, "align": "left", "dx": -2, "dy": -13},
           "encoding": {"x": {"field": "d", "type": "temporal", "scale": {"type": "utc"}}, "y": {"field": "v", "type": "quantitative"}, "text": {"field": "t", "type": "nominal"}}},
          {"data": {"values": [{"d": "2024-09", "v": -5.7, "t": "-5.7"}]}, "mark": {"type": "text", "color": "#A6A6A6", "fontSize": 10.5, "align": "left", "dx": -2, "dy": -4},
           "encoding": {"x": {"field": "d", "type": "temporal", "scale": {"type": "utc"}}, "y": {"field": "v", "type": "quantitative"}, "text": {"field": "t", "type": "nominal"}}},
          {"data": {"values": [{"d": "2024-09", "v": -6.6, "t": "-6.6"}]}, "mark": {"type": "text", "color": "#FFC000", "fontWeight": "bold", "fontSize": 10.5, "align": "left", "dx": -3, "dy": 5},
           "encoding": {"x": {"field": "d", "type": "temporal", "scale": {"type": "utc"}}, "y": {"field": "v", "type": "quantitative"}, "text": {"field": "t", "type": "nominal"}}}
        ]
        }
       ], "spacing": 0}
     ], "spacing": 7},
     {"vconcat": [
       {"width": 335, "height": 1, "data": {"values": [{}]}, "mark": {"type": "point", "opacity": 0}, "encoding": {"x": {"datum": 0, "type": "quantitative", "scale": {"domain": [0, 1]}, "axis": {"orient": "top", "domainColor": "#A9B8CC", "domainWidth": 1, "ticks": false, "labels": false, "title": null}}}, "title": {"text": "图表23：9 月三线城市新建商品住宅价格环比降幅收窄"}},
       {"hconcat": [
        {"width": 0.01, "height": 1, "data": {"values": []}, "mark": "text", "encoding": {}},
        {"width": 269, "height": 183,
        "title": {"text": "中国70个大中城市房价环比：新增商品住宅", "anchor": "middle", "frame": "group", "fontSize": 10, "offset": -8.5, "dx": 2},
        "layer": [
          {"data": {"values": [{}]}, "mark": {"type": "rule", "color": "#000000", "strokeWidth": 1}, "encoding": {"y": {"datum": 0}}},
          {"data": {"name": "c23"}, "transform": [{"fold": ["t2", "t3", "t1"], "as": ["s", "v"]}], "mark": {"type": "line"},
           "encoding": {
            "x": {"field": "d", "type": "temporal", "scale": {"type": "utc", "nice": false, "domain": [{"year": 2014, "month": 8, "date": 8, "utc": true}, {"year": 2024, "month": 9, "date": 1, "utc": true}]},
                  "axis": {"values": [{"year": 2014, "month": 9, "date": 1, "utc": true}, {"year": 2016, "month": 9, "date": 1, "utc": true}, {"year": 2018, "month": 9, "date": 1, "utc": true}, {"year": 2020, "month": 9, "date": 1, "utc": true}, {"year": 2022, "month": 9, "date": 1, "utc": true}, {"year": 2024, "month": 9, "date": 1, "utc": true}], "format": "%y-%m", "tickCount": 30, "title": "资料来源：CEIC，华泰研究", "titleX": -36, "titleY": 29, "titleAlign": "left", "titleBaseline": "middle", "titleAngle": 0, "titleColor": "#7F7F7F"}},
            "y": {"field": "v", "type": "quantitative", "scale": {"domain": [-20, 60], "nice": false, "zero": false},
                  "axis": {"values": [-20, -10, 0, 10, 20, 30, 40, 50, 60], "tickCount": 30, "labelExpr": "datum.value < 0 ? '(' + abs(datum.value) + ')' : '' + datum.value", "title": "（%）", "titleX": -13, "titleY": -8, "titleAlign": "left", "titleBaseline": "middle", "titleAngle": 0}},
            "color": {"field": "s", "type": "nominal", "scale": {"domain": ["t1", "t2", "t3"], "range": ["#C00000", "#BFBFBF", "#FFC000"]},
                      "legend": {"title": null, "orient": "none", "legendX": 38, "legendY": 18, "direction": "horizontal", "symbolSize": 676, "columnPadding": 38, "labelOffset": 3, "labelFont": "Noto Sans CJK SC", "labelExpr": "datum.value == 't1' ? '一线' : datum.value == 't2' ? '二线' : '三线'"}},
            "strokeWidth": {"field": "s", "type": "nominal", "scale": {"domain": ["t1", "t2", "t3"], "range": [1.8, 1.4, 1.8]}, "legend": null}
           }},
          {"data": {"values": [{"d": "2024-09", "v": -5.8, "t": "-5.8"}]}, "mark": {"type": "text", "color": "#C00000", "fontWeight": "bold", "fontSize": 10, "align": "left", "dx": 7, "dy": -11},
           "encoding": {"x": {"field": "d", "type": "temporal", "scale": {"type": "utc"}}, "y": {"field": "v", "type": "quantitative"}, "text": {"field": "t", "type": "nominal"}}},
          {"data": {"values": [{"d": "2024-09", "v": -8.3, "t": "-8.3"}]}, "mark": {"type": "text", "color": "#A6A6A6", "fontSize": 10, "align": "left", "dx": 7, "dy": -7},
           "encoding": {"x": {"field": "d", "type": "temporal", "scale": {"type": "utc"}}, "y": {"field": "v", "type": "quantitative"}, "text": {"field": "t", "type": "nominal"}}},
          {"data": {"values": [{"d": "2024-09", "v": -8.3, "t": "-8.3"}]}, "mark": {"type": "text", "color": "#FFC000", "fontWeight": "bold", "fontSize": 10, "align": "left", "dx": 7, "dy": 4},
           "encoding": {"x": {"field": "d", "type": "temporal", "scale": {"type": "utc"}}, "y": {"field": "v", "type": "quantitative"}, "text": {"field": "t", "type": "nominal"}}}
        ]
        }
       ], "spacing": 0}
     ], "spacing": 5}
   ], "spacing": 12, "resolve": {"scale": {"color": "independent", "strokeWidth": "independent"}}},
   {"hconcat": [
     {"vconcat": [
       {"width": 340, "height": 1, "data": {"values": [{}]}, "mark": {"type": "point", "opacity": 0}, "encoding": {"x": {"datum": 0, "type": "quantitative", "scale": {"domain": [0, 1]}, "axis": {"orient": "top", "domainColor": "#A9B8CC", "domainWidth": 1, "ticks": false, "labels": false, "title": null}}}, "title": {"text": "图表24：9 月二线城市二手房价格环比降幅收窄"}},
       {"hconcat": [
        {"width": 0.01, "height": 1, "data": {"values": []}, "mark": "text", "encoding": {}},
        {"width": 259, "height": 182,
        "title": {"text": "中国70个大中城市房价环比：二手房", "anchor": "middle", "frame": "group", "fontSize": 10, "offset": -13.5, "dx": 8},
        "layer": [
          {"data": {"values": [{}]}, "mark": {"type": "rule", "color": "#595959", "strokeWidth": 1}, "encoding": {"y": {"datum": 0}}},
          {"data": {"name": "c24"}, "transform": [{"fold": ["t2", "t3", "t1"], "as": ["s", "v"]}], "mark": {"type": "line"},
           "encoding": {
            "x": {"field": "d", "type": "temporal", "scale": {"type": "utc", "nice": false, "domain": [{"year": 2016, "month": 9, "date": 1, "utc": true}, {"year": 2024, "month": 9, "date": 1, "utc": true}]},
                  "axis": {"values": [{"year": 2016, "month": 9, "date": 1, "utc": true}, {"year": 2018, "month": 9, "date": 1, "utc": true}, {"year": 2020, "month": 9, "date": 1, "utc": true}, {"year": 2022, "month": 9, "date": 1, "utc": true}, {"year": 2024, "month": 9, "date": 1, "utc": true}], "format": "%y-%m", "tickCount": 30, "title": "资料来源：CEIC，华泰研究", "titleX": -36, "titleY": 29, "titleAlign": "left", "titleBaseline": "middle", "titleAngle": 0, "titleColor": "#7F7F7F"}},
            "y": {"field": "v", "type": "quantitative", "scale": {"domain": [-20, 60], "nice": false, "zero": false},
                  "axis": {"values": [-20, 0, 20, 40, 60], "tickCount": 30, "labelExpr": "datum.value < 0 ? '(' + abs(datum.value) + ')' : '' + datum.value", "title": "（%）", "titleX": -16, "titleY": -14, "titleAlign": "left", "titleBaseline": "middle", "titleAngle": 0}},
            "color": {"field": "s", "type": "nominal", "scale": {"domain": ["t1", "t2", "t3"], "range": ["#C00000", "#BFBFBF", "#FFC000"]},
                      "legend": {"title": null, "orient": "none", "legendX": 28, "legendY": 19, "direction": "horizontal", "symbolSize": 625, "columnPadding": 13, "labelOffset": 4, "labelFont": "Noto Sans CJK SC", "labelExpr": "datum.value == 't1' ? '一线城市' : datum.value == 't2' ? '二线城市' : '三线城市'"}},
            "strokeWidth": {"field": "s", "type": "nominal", "scale": {"domain": ["t1", "t2", "t3"], "range": [1.8, 1.4, 1.8]}, "legend": null}
           }},
          {"data": {"values": [{"d": "2024-09", "v": -10.0, "t": "-10.0"}]}, "mark": {"type": "text", "color": "#A6A6A6", "fontSize": 10.5, "align": "left", "dx": 4, "dy": -9},
           "encoding": {"x": {"field": "d", "type": "temporal", "scale": {"type": "utc"}}, "y": {"field": "v", "type": "quantitative"}, "text": {"field": "t", "type": "nominal"}}},
          {"data": {"values": [{"d": "2024-09", "v": -10.6, "t": "-10.6"}]}, "mark": {"type": "text", "color": "#FFC000", "fontWeight": "bold", "fontSize": 10.5, "align": "left", "dx": 4, "dy": 2},
           "encoding": {"x": {"field": "d", "type": "temporal", "scale": {"type": "utc"}}, "y": {"field": "v", "type": "quantitative"}, "text": {"field": "t", "type": "nominal"}}},
          {"data": {"values": [{"d": "2024-09", "v": -13.7, "t": "-13.7"}]}, "mark": {"type": "text", "color": "#C00000", "fontWeight": "bold", "fontSize": 10.5, "align": "left", "dx": 4, "dy": 9},
           "encoding": {"x": {"field": "d", "type": "temporal", "scale": {"type": "utc"}}, "y": {"field": "v", "type": "quantitative"}, "text": {"field": "t", "type": "nominal"}}}
        ]
        }
       ], "spacing": 0}
     ], "spacing": 3},
     {"vconcat": [
       {"width": 335, "height": 1, "data": {"values": [{}]}, "mark": {"type": "point", "opacity": 0}, "encoding": {"x": {"datum": 0, "type": "quantitative", "scale": {"domain": [0, 1]}, "axis": {"orient": "top", "domainColor": "#A9B8CC", "domainWidth": 1, "ticks": false, "labels": false, "title": null}}}, "title": {"text": "图表25：2024 年 3 季度城镇居民人均收入增速边际回落"}},
       {"hconcat": [
        {"width": 0.01, "height": 1, "data": {"values": []}, "mark": "text", "encoding": {}},
        {"width": 278, "height": 187,
        "layer": [
          {"data": {"name": "c25"}, "transform": [{"fold": ["r", "u"], "as": ["s", "v"]}], "mark": {"type": "line"},
           "encoding": {
            "x": {"field": "d", "type": "temporal", "scale": {"type": "utc", "nice": false, "domain": [{"year": 2019, "month": 9, "date": 1, "utc": true}, {"year": 2024, "month": 9, "date": 1, "utc": true}]},
                  "axis": {"values": [{"year": 2019, "month": 9, "date": 1, "utc": true}, {"year": 2020, "month": 9, "date": 1, "utc": true}, {"year": 2021, "month": 9, "date": 1, "utc": true}, {"year": 2022, "month": 9, "date": 1, "utc": true}, {"year": 2023, "month": 9, "date": 1, "utc": true}, {"year": 2024, "month": 9, "date": 1, "utc": true}], "format": "%y-%m", "tickCount": 30, "title": "资料来源：CEIC，华泰研究", "titleX": -38, "titleY": 29, "titleAlign": "left", "titleBaseline": "middle", "titleAngle": 0, "titleColor": "#7F7F7F"}},
            "y": {"field": "v", "type": "quantitative", "scale": {"domain": [0, 18], "nice": false, "zero": false},
                  "axis": {"values": [0, 2, 4, 6, 8, 10, 12, 14, 16, 18], "tickCount": 30, "format": "d", "title": "%年同比", "titleX": -11, "titleY": -8, "titleAlign": "left", "titleBaseline": "middle", "titleAngle": 0}},
            "color": {"field": "s", "type": "nominal", "scale": {"domain": ["u", "r"], "range": ["#C00000", "#BFBFBF"]},
                      "legend": {"title": null, "orient": "none", "legendX": 34, "legendY": 5, "direction": "horizontal", "symbolSize": 625, "columnPadding": 12, "labelOffset": 5, "labelFont": "Noto Sans CJK SC", "labelExpr": "datum.value == 'u' ? '城镇居民人均收入' : '农村居民人均收入'"}},
            "strokeWidth": {"field": "s", "type": "nominal", "scale": {"domain": ["u", "r"], "range": [2, 1.5]}, "legend": null}
           }}
        ]
        }
       ], "spacing": 0}
     ], "spacing": 2}
   ], "spacing": 12, "resolve": {"scale": {"color": "independent", "strokeWidth": "independent"}}}
  ],
  "spacing": 24
 },
 {"width": 10, "height": 110, "data": {"values": []}, "mark": "text", "encoding": {}},
 {"width": 688, "height": 1, "data": {"values": [{}]}, "mark": {"type": "point", "opacity": 0, "size": 0},
  "encoding": {"x": {"datum": 0, "type": "quantitative", "scale": {"domain": [0, 1]}, "axis": {"orient": "top", "domainColor": "#1F3864", "domainWidth": 2, "ticks": false, "labels": false, "title": "8", "titleX": 684, "titleY": 13, "titleAlign": "right", "titleBaseline": "middle", "titleAngle": 0, "titleFont": "Liberation Sans", "titleFontSize": 11, "titleFontWeight": "normal", "titleColor": "#000000"}}},
  "title": {"text": "免责声明和披露以及分析师声明是报告的一部分，请务必一起阅读。", "orient": "bottom", "anchor": "start", "offset": -11, "fontSize": 10, "fontStyle": "italic", "fontWeight": "normal", "font": "Noto Sans CJK SC"}}
],
"spacing": 12,
"resolve": {"scale": {"color": "independent", "strokeWidth": "independent"}}
}
